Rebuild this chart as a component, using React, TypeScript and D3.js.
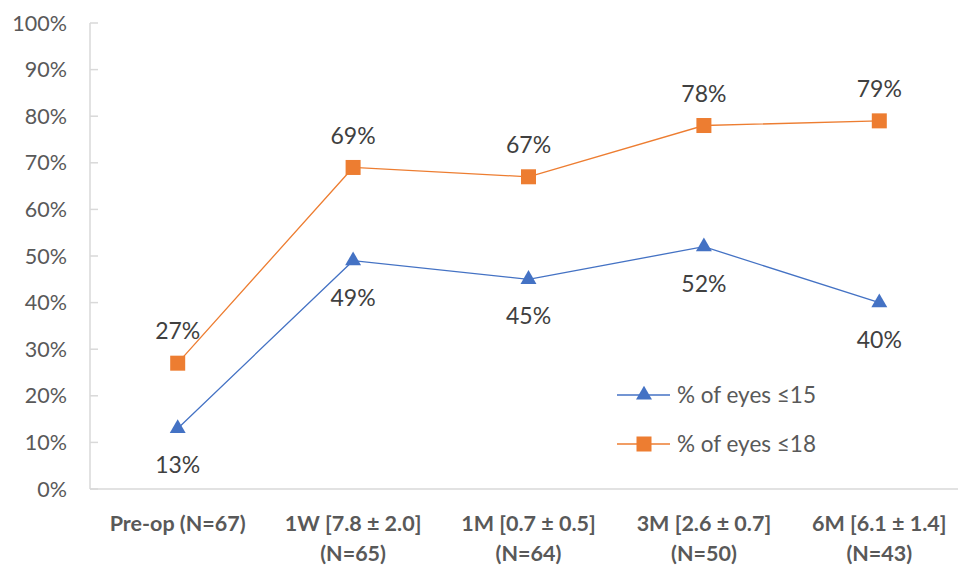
import React from "react";
import * as d3 from "d3";

const categories = ["Pre-op (N=67)", "1W [7.8 ± 2.0]|(N=65)", "1M [0.7 ± 0.5]|(N=64)", "3M [2.6 ± 0.7]|(N=50)", "6M [6.1 ± 1.4]|(N=43)"];
const eyes15 = [13, 49, 45, 52, 40];
const eyes18 = [27, 69, 67, 78, 79];
const yTicks = [0, 10, 20, 30, 40, 50, 60, 70, 80, 90, 100];
const seriesNames = ["% of eyes ≤15", "% of eyes ≤18"];

const W = 958, H = 568;
const left = 90, top = 23, bottom = 489, right = 967;
const BLUE = "#4472C4", ORANGE = "#ED7D31";
const FONT = "Lato, 'Open Sans', sans-serif";

export default function App() {
  const x = d3.scaleBand().domain(categories).range([left, right]);
  const y = d3.scaleLinear().domain([0, 100]).range([bottom, top]);
  const cx = (c: string) => (x(c) as number) + x.bandwidth() / 2;
  const line = d3.line<number>().x((_, i) => cx(categories[i])).y((d) => y(d));
  const tri = d3.symbol().type(d3.symbolTriangle).size(110)() as string;
  const sq = 15;

  return (
    <svg width={W} height={H} style={{ position: "absolute", left: 0, top: 0, background: "#fff" }} fontFamily={FONT}>
      {/* y axis */}
      <line x1={left} x2={left} y1={top} y2={bottom} stroke="#d9d9d9" strokeWidth={1.5} />
      {yTicks.map((t) => (
        <g key={t}>
          <line x1={left} x2={left + 8} y1={y(t)} y2={y(t)} stroke="#d9d9d9" strokeWidth={1.5} />
          <text x={67} y={y(t)} dy="0.35em" textAnchor="end" fontSize={21.5} fill="#595959">{t}%</text>
        </g>
      ))}
      {/* x axis */}
      <line x1={left} x2={right} y1={bottom} y2={bottom} stroke="#d9d9d9" strokeWidth={1.5} />
      {categories.map((c) => {
        const lines = c.split("|");
        return (
          <text key={c} x={cx(c)} y={523} textAnchor="middle" fontSize={21.5} fontWeight="bold" fill="#595959">
            {lines.map((l, i) => (
              <tspan key={i} x={cx(c)} dy={i === 0 ? "0.35em" : 30}>{l}</tspan>
            ))}
          </text>
        );
      })}
      {/* series */}
      <path d={line(eyes18) as string} fill="none" stroke={ORANGE} strokeWidth={1.3} />
      <path d={line(eyes15) as string} fill="none" stroke={BLUE} strokeWidth={1.3} />
      {eyes18.map((v, i) => (
        <g key={"o" + i}>
          <rect x={cx(categories[i]) - sq / 2} y={y(v) - sq / 2} width={sq} height={sq} fill={ORANGE} />
          <text x={cx(categories[i])} y={y(v) - 32} dy="0.35em" textAnchor="middle" fontSize={23} fill="#404040">{v}%</text>
        </g>
      ))}
      {eyes15.map((v, i) => (
        <g key={"b" + i}>
          <path d={tri} transform={`translate(${cx(categories[i])},${y(v)})`} fill={BLUE} />
          <text x={cx(categories[i])} y={y(v) + 37} dy="0.35em" textAnchor="middle" fontSize={23} fill="#404040">{v}%</text>
        </g>
      ))}
      {/* legend */}
      {seriesNames.map((n, i) => {
        const ly = 395 + i * 49;
        const col = i === 0 ? BLUE : ORANGE;
        return (
          <g key={n}>
            <line x1={617} x2={670} y1={ly} y2={ly} stroke={col} strokeWidth={1.3} />
            {i === 0 ? (
              <path d={tri} transform={`translate(644,${ly})`} fill={col} />
            ) : (
              <rect x={644 - sq / 2} y={ly - sq / 2} width={sq} height={sq} fill={col} />
            )}
            <text x={677} y={ly} dy="0.35em" fontSize={22.5} fill="#595959">{n}</text>
          </g>
        );
      })}
    </svg>
  );
}
